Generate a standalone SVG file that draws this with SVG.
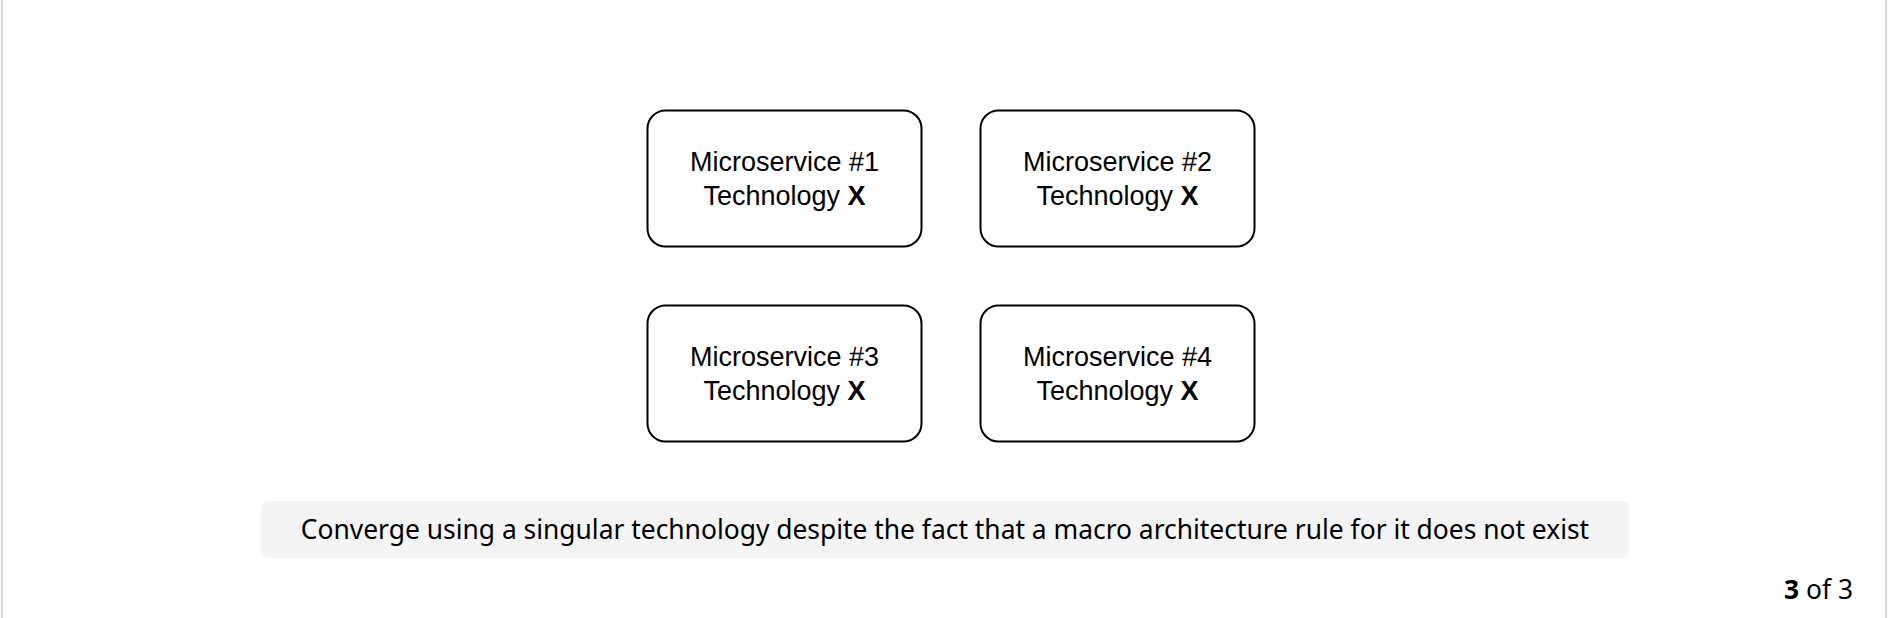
<svg xmlns="http://www.w3.org/2000/svg" width="1888" height="618" viewBox="0 0 1888 618">
<style>
.node{fill:#fff;stroke:#000;stroke-width:2}
.t{font-family:"Liberation Sans",Arial,sans-serif;font-size:27px;fill:#000;text-anchor:middle}
.b{font-weight:bold}
.cap{font-family:"Noto Sans","Open Sans",sans-serif;font-size:26.4px;fill:#000}
</style>
<rect x="0" y="0" width="1888" height="618" fill="#fff"/>
<rect x="2" y="-20" width="1884" height="660" rx="14" fill="#fff" stroke="#d6d6d9" stroke-width="2"/>
<g id="ms1">
<rect class="node" x="647.5" y="110.5" width="274" height="136" rx="18"/>
<text class="t" x="784.5" y="171">Microservice #1</text>
<text class="t" x="784.5" y="204.5">Technology <tspan class="b">X</tspan></text>
</g>
<g id="ms2">
<rect class="node" x="980.5" y="110.5" width="274" height="136" rx="18"/>
<text class="t" x="1117.5" y="171">Microservice #2</text>
<text class="t" x="1117.5" y="204.5">Technology <tspan class="b">X</tspan></text>
</g>
<g id="ms3">
<rect class="node" x="647.5" y="305.5" width="274" height="136" rx="18"/>
<text class="t" x="784.5" y="366">Microservice #3</text>
<text class="t" x="784.5" y="399.5">Technology <tspan class="b">X</tspan></text>
</g>
<g id="ms4">
<rect class="node" x="980.5" y="305.5" width="274" height="136" rx="18"/>
<text class="t" x="1117.5" y="366">Microservice #4</text>
<text class="t" x="1117.5" y="399.5">Technology <tspan class="b">X</tspan></text>
</g>
<g id="connectors"></g>
<g id="caption">
<rect x="261" y="501" width="1368" height="57" rx="8" fill="#f4f4f4"/>
<text class="cap" x="945" y="539" text-anchor="middle">Converge using a singular technology despite the fact that a macro architecture rule for it does not exist</text>
</g>
<g id="pager">
<text class="cap" x="1853" y="599" text-anchor="end" font-size="27"><tspan font-weight="bold">3</tspan> of 3</text>
</g>
</svg>
